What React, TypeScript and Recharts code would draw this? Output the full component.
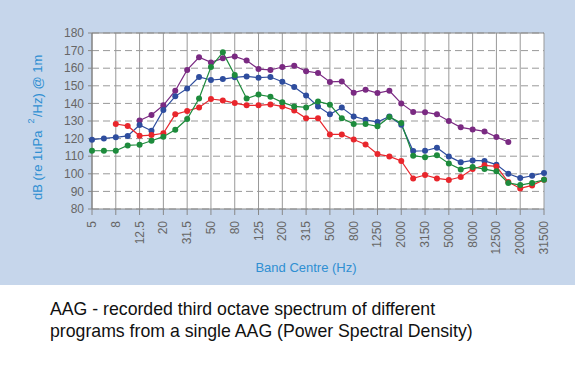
import { LineChart, Line, XAxis, YAxis, CartesianGrid, ReferenceLine } from "recharts";

const bands = [
  "5", "6.3", "8", "10", "12.5", "16", "20", "25", "31.5", "40", "50", "63", "80",
  "100", "125", "160", "200", "250", "315", "400", "500", "630", "800", "1000",
  "1250", "1600", "2000", "2500", "3150", "4000", "5000", "6300", "8000", "10000",
  "12500", "16000", "20000", "25000", "31500",
];

const purple = [
  null, null, null, null, 130.3, 133.4, 138.9, 147.2, 159, 166.2,
  163.3, 165.6, 166.7, 164.4, 159.5, 159, 160.7, 161.4, 158.3,
  157.3, 152.2, 152.5, 146.1, 147.8, 145.9, 147.2, 140, 135.1,
  135, 133.8, 130, 126.4, 125.2, 124.1, 120.9, 118.1, null, null, null,
];

const blue = [
  119.4, 120.1, 120.7, 121.5, 127.7, 124.5, 136.2, 144, 148.4, 155,
  153.3, 153.8, 154.8, 155.3, 154.6, 155, 152.3, 149.3, 144.5,
  138.3, 133.8, 137.6, 132.6, 130.7, 129.4, 132.6, 127.9, 112.9,
  113.1, 114.8, 109.9, 106.5, 107.6, 107.3, 105.2, 100, 97.6, 98.9, 100.5,
];

const red = [
  null, null, 128.3, 127.2, 121.6, 122, 123, 133.8, 135.7, 137.7,
  142.5, 141.7, 140.2, 138.9, 138.9, 139.4, 138.3, 136, 131.5,
  131.5, 122.4, 122.4, 119.5, 116.7, 111.2, 109.9, 107.3, 97.4,
  99.3, 97.4, 96.5, 98.2, 102.7, 104.8, 104.2, 95.3, 91.7, 93.4, 96.6,
];

const green = [
  113.1, 113.1, 113.1, 116.1, 116.5, 118.8, 121.1, 125, 131.1, 142.8,
  160.7, 169, 156.1, 142.8, 145, 143.8, 140.6, 138.3, 137.7,
  141.1, 139.3, 131.5, 128.3, 128.3, 127, 132.3, 128.9, 110.3,
  109.4, 110.5, 105.9, 102.5, 103.9, 102.7, 101.4, 94.8, 93.6, 94.8, 96.6,
];

const yTicks = [80, 90, 100, 110, 120, 130, 140, 150, 160, 170, 180];

const data = bands.map((band, i) => ({
  band,
  purple: purple[i],
  blue: blue[i],
  red: red[i],
  green: green[i],
}));

const series = [
  { key: "purple", color: "#7a2a82" },
  { key: "blue", color: "#2e4d9e" },
  { key: "red", color: "#e8262c" },
  { key: "green", color: "#1d8b3c" },
];

const font = "'Liberation Sans', Arial, sans-serif";
const labelBlue = "#2f8fd2";

function BandTick({ x, y, payload }: any) {
  const ty = y + 4;
  return (
    <text
      x={x}
      y={ty}
      transform={`rotate(-90, ${x}, ${ty})`}
      textAnchor="end"
      dominantBaseline="central"
      fontSize={12}
      fontFamily={font}
      fill="#666"
    >
      {payload.value}
    </text>
  );
}

function YLabel() {
  return (
    <g fontFamily={font} fill={labelBlue} fontSize={13}>
      <text x={37} y={200} transform="rotate(-90, 37, 200)" textAnchor="start" dominantBaseline="central">
        dB (re 1uPa
      </text>
      <text x={31} y={121} transform="rotate(-90, 31, 121)" textAnchor="middle" dominantBaseline="central" fontSize={9}>
        2
      </text>
      <text x={37} y={117} transform="rotate(-90, 37, 117)" textAnchor="start" dominantBaseline="central">
        /Hz) @ 1m
      </text>
    </g>
  );
}

function XLabel() {
  return (
    <text x={306} y={267} textAnchor="middle" dominantBaseline="central" fontSize={13} fontFamily={font} fill={labelBlue}>
      Band Centre (Hz)
    </text>
  );
}

export default function App() {
  return (
    <div style={{ position: "absolute", left: 0, top: 0, width: 575, height: 365, background: "#fff" }}>
      <div style={{ width: 575, height: 285, background: "#c6d6eb" }}>
        <LineChart width={575} height={285} data={data} margin={{ top: 33, right: 31, left: 0, bottom: 0 }}>
          <CartesianGrid horizontal={false} vertical stroke="#999" fill="#fff" />
          <CartesianGrid vertical={false} horizontal stroke="#999" strokeDasharray="7 4" />
          <ReferenceLine y={180} stroke="#888" />
          <XAxis
            dataKey="band"
            interval={1}
            height={76}
            tick={<BandTick />}
            tickSize={6}
            tickLine={{ stroke: "#888" }}
            axisLine={{ stroke: "#888" }}
            label={{ content: () => <XLabel /> }}
          />
          <YAxis
            domain={[80, 180]}
            ticks={yTicks}
            interval={0}
            width={92}
            tickSize={4}
            tickMargin={4}
            tick={{ fontSize: 12, fontFamily: font, fill: "#666" }}
            tickLine={{ stroke: "#888" }}
            axisLine={{ stroke: "#777" }}
            label={{ content: () => <YLabel /> }}
          />
          {series.map((s) => (
            <Line
              key={s.key}
              type="linear"
              dataKey={s.key}
              stroke={s.color}
              strokeWidth={1.2}
              dot={{ r: 3, fill: s.color, stroke: s.color, strokeWidth: 0 }}
              isAnimationActive={false}
            />
          ))}
        </LineChart>
      </div>
      <div
        style={{
          position: "absolute",
          left: 50,
          top: 298,
          fontFamily: font,
          fontSize: 17.7,
          lineHeight: "22px",
          color: "#111",
        }}
      >
        AAG - recorded third octave spectrum of different
        <br />
        programs from a single AAG (Power Spectral Density)
      </div>
    </div>
  );
}
